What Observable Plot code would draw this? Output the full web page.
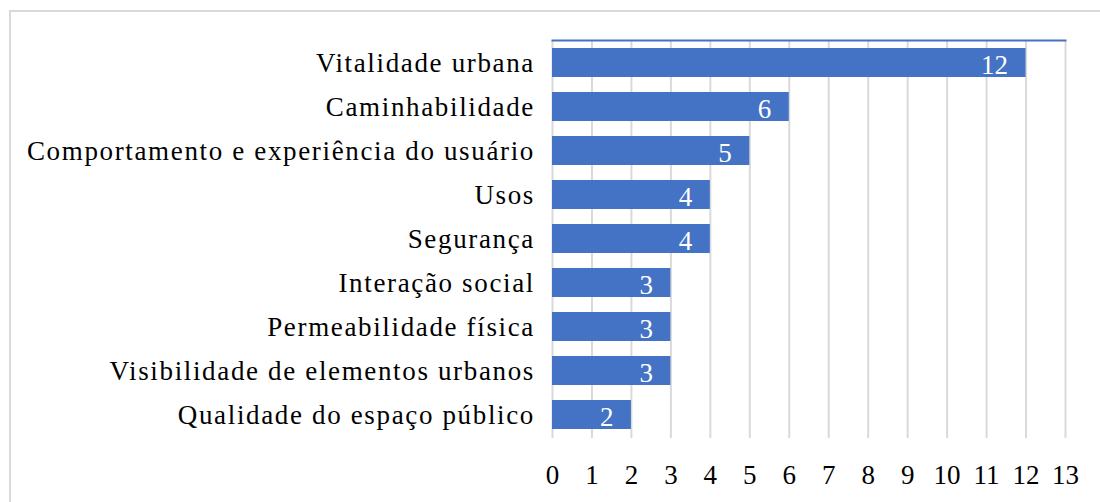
<!DOCTYPE html>
<html>
<head>
<meta charset="utf-8">
<script src="https://cdn.jsdelivr.net/npm/d3@7"></script>
<script src="https://cdn.jsdelivr.net/npm/@observablehq/plot@0.6"></script>
<style>
  html, body { margin: 0; padding: 0; background: #fff; }
  #wrap { position: relative; width: 1100px; height: 502px; overflow: hidden; }
  #border { position: absolute; left: 9px; top: 10px; width: 1200px; height: 600px;
            border-top: 2px solid #d9d9d9; border-left: 2px solid #d9d9d9; pointer-events: none; }
  svg { display: block; }
  #wrap svg g[aria-label="y-axis tick label"] text { letter-spacing: 1.65px; }
</style>
</head>
<body>
<div id="wrap"><div id="border"></div></div>
<script>
const categories = [
  "Vitalidade urbana",
  "Caminhabilidade",
  "Comportamento e experiência do usuário",
  "Usos",
  "Segurança",
  "Interação social",
  "Permeabilidade física",
  "Visibilidade de elementos urbanos",
  "Qualidade do espaço público"
];
const values = [12, 6, 5, 4, 4, 3, 3, 3, 2];
const xTicks = [0,1,2,3,4,5,6,7,8,9,10,11,12,13];

const data = categories.map((c, i) => ({category: c, value: values[i]}));
const FONT = "'Liberation Serif', 'Times New Roman', serif";

const chart = Plot.plot({
  width: 1100,
  height: 502,
  marginLeft: 552,
  marginRight: 35,
  marginTop: 40,
  marginBottom: 64,
  style: {fontFamily: FONT, fontSize: "27px", color: "#000", background: "transparent"},
  x: {domain: [0, 13]},
  y: {domain: categories, paddingInner: 0.34, paddingOuter: 0.17},
  marks: [
    Plot.gridX(xTicks, {stroke: "#d9d9d9", strokeOpacity: 1, strokeWidth: 2}),
    Plot.barX(data, {x: "value", y: "category", fill: "#4472C4"}),
    Plot.frame({anchor: "top", stroke: "#4472C4", strokeWidth: 2}),
    Plot.axisX(xTicks, {tickSize: 0, tickPadding: 26, label: null, fontFamily: FONT, fontSize: 27, fill: "#000"}),
    Plot.axisY({tickSize: 0, tickPadding: 17.5, label: null, fontFamily: FONT, fontSize: 27, fill: "#000"}),
    Plot.text(data, {x: "value", y: "category", text: d => String(d.value), fill: "#fff", textAnchor: "end", dx: -18, dy: 2.7, fontFamily: FONT, fontSize: 27})
  ]
});
document.getElementById("wrap").prepend(chart);
</script>
</body>
</html>
